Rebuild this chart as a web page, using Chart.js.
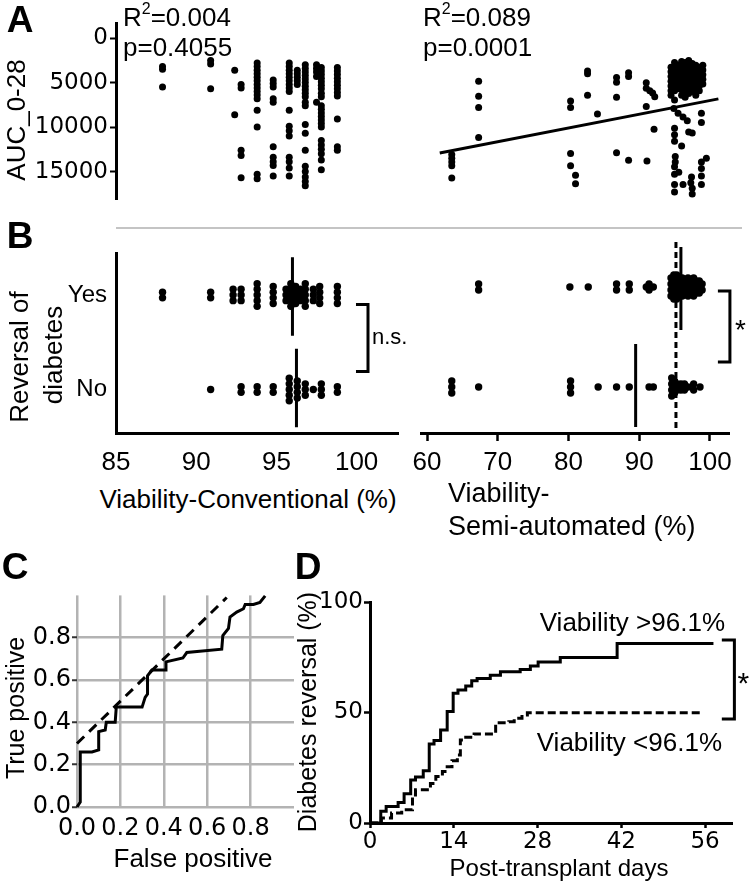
<!DOCTYPE html>
<html>
<head>
<meta charset="utf-8">
<script src="https://cdn.jsdelivr.net/npm/chart.js@4.4.1/dist/chart.umd.min.js"></script>
<style>
body{margin:0;background:#fff;}
#fig{position:relative;width:752px;height:884px;overflow:hidden;font-family:"Liberation Sans",Arial,sans-serif;color:#000;}
canvas{position:absolute;}
.t{position:absolute;white-space:nowrap;line-height:1;}
.c{transform:translate(-50%,-50%);}
.l{transform:translate(0,-50%);}
.r{transform:translate(-100%,-50%);}
.v{transform:translate(-50%,-50%) rotate(-90deg);}
.lab{font-weight:bold;font-size:37px;}
sup{font-size:16px;position:relative;top:-3px;vertical-align:top;}
</style>
</head>
<body>
<div id="fig">
  <canvas id="cA1" width="405" height="215" style="left:0;top:0"></canvas>
  <canvas id="cA2" width="347" height="215" style="left:405px;top:0"></canvas>
  <canvas id="cB1" width="420" height="250" style="left:0;top:230px"></canvas>
  <canvas id="cB2" width="347" height="250" style="left:405px;top:230px"></canvas>
  <canvas id="cC" width="340" height="304" style="left:0;top:580px"></canvas>
  <canvas id="cD" width="442" height="304" style="left:310px;top:580px"></canvas>

  <div style="position:absolute;left:116px;top:227px;width:626px;height:2px;background:#c4c4c4"></div>

  <div class="t c lab" style="left:20px;top:19px">A</div>
  <div class="t c lab" style="left:20px;top:235px">B</div>
  <div class="t c lab" style="left:15px;top:566px">C</div>
  <div class="t c lab" style="left:308px;top:566px">D</div>

  <div class="t l" style="left:123px;top:17px;font-size:26px">R<sup>2</sup>=0.004</div>
  <div class="t l" style="left:123px;top:47px;font-size:26px">p=0.4055</div>
  <div class="t l" style="left:423px;top:17px;font-size:26px">R<sup>2</sup>=0.089</div>
  <div class="t l" style="left:423px;top:47px;font-size:26px">p=0.0001</div>
  <div class="t v" style="left:16px;top:120px;font-size:26px">AUC_0-28</div>

  <div class="t v" style="left:19px;top:357px;font-size:26px">Reversal of</div>
  <div class="t v" style="left:53px;top:355px;font-size:26px">diabetes</div>
  <div class="t c" style="left:248px;top:499px;font-size:26px">Viability-Conventional (%)</div>
  <div class="t l" style="left:448px;top:493px;font-size:27px">Viability-</div>
  <div class="t l" style="left:448px;top:526px;font-size:27px">Semi-automated (%)</div>

  <div class="t v" style="left:15px;top:708px;font-size:25px">True positive</div>
  <div class="t c" style="left:193px;top:858px;font-size:26px">False positive</div>

  <div class="t v" style="left:307px;top:712px;font-size:25px">Diabetes reversal (%)</div>
  <div class="t c" style="left:559px;top:868px;font-size:24px">Post-transplant days</div>
  <div class="t r" style="left:725px;top:622px;font-size:26px">Viability &gt;96.1%</div>
  <div class="t r" style="left:722px;top:742px;font-size:26px">Viability &lt;96.1%</div>
</div>

<script>
// ---- data ----
// A: viability (%) vs AUC_0-28, conventional method
const aucConv = [
  [87.9,3200],[87.9,3500],[87.9,5500],
  [90.9,2500],[90.9,2900],[90.9,5700],
  [92.4,3600],[92.4,8600],
  [92.8,5200],[92.8,5600],[92.8,12600],[92.8,13200],[92.8,15700],
  [93.8,2800],[93.8,3200],[93.8,3600],[93.8,4000],[93.8,4400],[93.8,4800],[93.8,5200],[93.8,5600],
  [93.8,6000],[93.8,6400],[93.8,6800],[93.8,8100],[93.8,10000],[93.8,15300],[93.8,15800],
  [94.8,4700],[94.8,5100],[94.8,5500],[94.8,6800],[94.8,7200],[94.8,12200],[94.8,13400],[94.8,13900],
  [94.8,14300],[94.8,15500],
  [95.8,2800],[95.8,3200],[95.8,3600],[95.8,4000],[95.8,4400],[95.8,4800],[95.8,5200],[95.8,5600],
  [95.8,6000],[95.8,8100],[95.8,9900],[95.8,10400],[95.8,11000],[95.8,13400],[95.8,13900],[95.8,14600],
  [95.8,15500],
  [96.3,3600],[96.3,4000],[96.3,4400],[96.3,4800],[96.3,5200],
  [96.8,3000],[96.8,3400],[96.8,3800],[96.8,4200],[96.8,4600],[96.8,5000],[96.8,5400],[96.8,5800],
  [96.8,6200],[96.8,6600],[96.8,7200],[96.8,7600],[96.8,9700],[96.8,10700],[96.8,12600],[96.8,14400],
  [96.8,15000],[96.8,15600],[96.8,16100],[96.8,16600],
  [97.5,3000],[97.5,3400],[97.5,3800],[97.5,4300],[97.5,7200],
  [97.8,3300],[97.8,3700],[97.8,4100],[97.8,4500],[97.8,4900],[97.8,5300],[97.8,5700],[97.8,6200],
  [97.8,6600],[97.8,7600],[97.8,8000],[97.8,8400],[97.8,8800],[97.8,9200],[97.8,9600],[97.8,10000],
  [97.8,11500],[97.8,12000],[97.8,12500],[97.8,13000],[97.8,13700],[97.8,14800],
  [98.8,3300],[98.8,3700],[98.8,4100],[98.8,4500],[98.8,4900],[98.8,5300],[98.8,5700],[98.8,6100],
  [98.8,6500],[98.8,9100],[98.8,12200],[98.8,12600]
];

// A: semi-automated method
const aucSemi = [
  [63.5,12300],[63.5,12700],[63.5,13100],[63.5,13500],[63.5,14800],
  [67.3,4500],[67.3,6100],[67.3,7300],[67.3,10500],
  [80.3,6600],[80.3,7300],[80.3,12200],[80.3,13500],[81.0,14500],[81.0,15400],
  [82.7,3400],[82.7,3700],[82.7,6000],
  [84.1,8000],
  [86.8,4100],[86.8,4600],[86.8,6200],[86.8,12100],
  [88.5,3600],[88.5,4000],[88.5,12900],
  [91.0,4650],[91.0,5250],[91.5,5500],[91.9,5750],[92.2,6150],[91.0,7200],[91.1,13000],
  [92.1,9600],
  [94.5,3000],[94.5,3500],[94.5,4000],[94.5,4500],[94.5,5000],[94.5,5500],[94.5,6000],
  [95.0,2500],[95.0,3000],[95.0,3500],[95.0,4000],[95.0,4500],[95.0,5000],[95.0,5500],[95.0,6500],
  [95.5,2800],[95.5,3300],[95.5,3800],[95.5,4300],[95.5,4800],[95.5,5300],
  [96.0,2400],[96.0,2900],[96.0,3400],[96.0,3900],[96.0,4400],[96.0,4900],[96.0,5400],[96.0,6000],
  [96.5,2500],[96.5,3000],[96.5,3500],[96.5,4000],[96.5,4500],[96.5,5000],[96.5,5500],[96.5,6200],
  [97.0,2300],[97.0,2800],[97.0,3300],[97.0,3800],[97.0,4300],[97.0,4800],[97.0,5300],[97.0,5800],
  [97.5,2600],[97.5,3100],[97.5,3600],[97.5,4100],[97.5,4600],[97.5,5100],[97.5,5600],
  [98.0,2800],[98.0,3300],[98.0,3800],[98.0,4300],[98.0,4800],[98.0,5300],[98.0,6000],
  [98.5,3000],[98.5,3500],[98.5,4000],[98.5,4500],[98.5,5000],[98.5,5500],
  [99.0,2800],[99.0,3300],[99.0,3800],[99.0,4300],[99.0,4800],
  [94.9,7400],[95.5,7900],[96.2,8300],[96.8,8700],
  [95.0,9500],[95.0,10200],[95.0,10900],[96.0,11400],[97.0,9900],[97.5,10000],[98.8,7900],[98.8,8900],
  [95.1,12500],[95.1,13100],[95.0,13600],[95.0,14400],[95.0,15500],[95.0,16300],[95.6,14200],[96.2,15500],
  [97.4,14700],[97.3,15300],[97.5,15900],[97.5,16500],[98.8,13100],[98.8,13800],[98.8,14600],[98.8,15500],
  [99.5,12700]
];
const aucTicks = [0, 5000, 10000, 15000];
// linear fit shown on the semi-automated panel
const regSlope = -146;
const regIntercept = 21153;
const regRange = [61.8, 101.2];

// B: viability by reversal of diabetes
const rowLabels = ['No', 'Yes'];
const yesConv = [87.9,87.9, 90.9,90.9, 92.3,92.3,92.3, 92.8,92.8,92.8, 93.8,93.8,93.8,93.8,93.8,
  94.8,94.8,94.8,94.8, 95.6,95.6,95.6, 95.9,95.9,95.9,95.9,95.9, 96.2,96.2,96.2,96.2, 96.5,96.5,96.5,
  96.8,96.8,96.8,96.8,96.8, 97.3,97.3,97.3, 97.7,97.7,97.7,97.7, 98.8,98.8,98.8,98.8];
const noConv = [90.9, 92.8,92.8, 93.8,93.8, 94.8,94.8, 95.8,95.8,95.8,95.8,95.8, 96.3,96.3,96.3,96.3,
  96.8,96.8,96.8, 97.3, 97.8,97.8,97.8, 98.8,98.8];
const yesSemi = [67.3,67.3, 80.2, 82.8, 86.8,86.8, 88.6,88.6, 91.0,91.4,91.4,92.0,
  94.5,94.5,94.5,94.5, 94.9,94.9,94.9,94.9,94.9, 95.3,95.3,95.3,95.3,95.3, 95.7,95.7,95.7,95.7,
  96.1,96.1,96.1,96.1, 96.5,96.5,96.5, 96.9,96.9,96.9,96.9, 97.3,97.3,97.3, 97.7,97.7,97.7,97.7,
  98.1,98.1,98.1, 98.5,98.5,98.5, 98.9,98.9];
const noSemi = [63.5,63.5,63.5, 67.3, 80.3,80.3,80.3, 84.2, 86.8, 88.6, 91.4, 92.0,
  94.6,94.6,94.6,94.6, 95.0,95.0,95.0, 95.4,95.4, 95.9,95.9, 96.4,96.4, 96.9, 97.7,97.7, 98.6];
const medYesConv = 96.0, medNoConv = 96.25;
const medYesSemi = 95.9, medNoSemi = 89.5, cutSemi = 95.2;
const convTicks = [85, 90, 95, 100];
const semiTicks = [60, 70, 80, 90, 100];

// C: ROC curve
const rocFpr = [0, 0.015, 0.015, 0.069, 0.10, 0.10, 0.13, 0.135, 0.176, 0.181, 0.30, 0.314, 0.325, 0.325,
  0.345, 0.41, 0.41, 0.488, 0.506, 0.667, 0.672, 0.698, 0.705, 0.736, 0.767, 0.775, 0.813, 0.843, 0.867];
const rocTpr = [0, 0.023, 0.26, 0.26, 0.27, 0.356, 0.364, 0.40, 0.40, 0.472, 0.472, 0.518, 0.534, 0.62,
  0.647, 0.647, 0.686, 0.704, 0.73, 0.746, 0.81, 0.844, 0.898, 0.921, 0.937, 0.957, 0.957, 0.967, 0.998];
const refFpr = [0, 0.69];
const refTpr = [0.30, 0.99];
const rocTicks = [0, 0.2, 0.4, 0.6, 0.8];

// D: Kaplan-Meier style reversal curves
const kmHighDays = [0, 1.8, 2.7, 4.7, 5.7, 6.8, 7.6, 8.9, 9.9, 10.7, 11.8, 12.9, 13.9, 14.7, 16.0, 17.0,
  17.9, 20.1, 21.8, 25.1, 26.8, 28.1, 31.8, 41.3, 57.4];
const kmHighPct = [0, 5.3, 7.5, 9.3, 13.2, 19.5, 20.8, 23.6, 35.8, 37.3, 42.1, 50.4, 58.7, 60.2, 62.0, 64.4,
  65.4, 66.9, 68.4, 69.5, 71.0, 72.9, 74.9, 81.2, 81.2];
const kmLowDays = [0, 1.9, 3.6, 5.3, 7.1, 7.6, 10.1, 11.0, 12.1, 12.9, 13.7, 14.6, 15.1, 16.0, 17.4, 21.0,
  23.2, 24.1, 25.4, 26.3, 55.4];
const kmLowPct = [0, 2.3, 4.5, 6.0, 12.7, 15.0, 17.9, 21.0, 23.3, 25.5, 28.2, 30.8, 37.6, 38.8, 40.3, 45.4,
  45.8, 47.4, 48.9, 49.9, 49.9];
const dayTicks = [0, 14, 28, 42, 56];
const pctTicks = [0, 50, 100];

// ---- helpers ----
Chart.defaults.font.family = '"Liberation Sans", Arial, sans-serif';
Chart.defaults.color = '#000';
Chart.defaults.animation = false;
Chart.defaults.responsive = false;
Chart.defaults.events = [];
Chart.defaults.plugins.legend.display = false;
Chart.defaults.plugins.tooltip.enabled = false;

const DV = '"DejaVu Sans", sans-serif';
const fixW = w => s => { s.width = w; };
const fixH = h => s => { s.height = h; };
const setTicks = vals => s => { s.ticks = vals.map(v => ({value: v})); };
const plain = v => String(v);
const axisLine = {display: true, color: '#000', width: 3};

const dots = (pts, r) => ({
  data: pts, pointRadius: r, backgroundColor: '#000', borderColor: '#000',
  pointBorderWidth: 0, clip: false
});
const pairs = arr => arr.map(([x, y]) => ({x, y}));
const zip = (xs, ys) => xs.map((x, i) => ({x, y: ys[i]}));
const seg = (data, dash, extra) => Object.assign({
  data, showLine: true, borderColor: '#000', borderWidth: 3, borderDash: dash || [],
  pointRadius: 0, clip: false
}, extra || {});

// stack repeated values around the row centre
function swarm(vals, row, step) {
  const count = {}, seen = {};
  vals.forEach(v => { count[v] = (count[v] || 0) + 1; });
  return vals.map(v => {
    const i = seen[v] = seen[v] === undefined ? 0 : seen[v] + 1;
    return {x: v, y: row + (i - (count[v] - 1) / 2) * step};
  });
}

const bracketPlugin = {
  id: 'bracket',
  afterDatasetsDraw(chart, args, o) {
    const {ctx} = chart, xs = chart.scales.x, ys = chart.scales.y;
    const X0 = xs.getPixelForValue(o.x0), X1 = xs.getPixelForValue(o.x1);
    const Y0 = ys.getPixelForValue(o.y0), Y1 = ys.getPixelForValue(o.y1);
    ctx.save();
    ctx.strokeStyle = '#000';
    ctx.lineWidth = 3;
    ctx.beginPath();
    ctx.moveTo(X0, Y0); ctx.lineTo(X1, Y0); ctx.lineTo(X1, Y1); ctx.lineTo(X0, Y1);
    ctx.stroke();
    ctx.fillStyle = '#000';
    ctx.font = o.font;
    ctx.textAlign = 'left';
    ctx.textBaseline = 'middle';
    ctx.fillText(o.text, X1 + o.gap, (Y0 + Y1) / 2 + o.dy);
    ctx.restore();
  }
};

// ---- A ----
new Chart(document.getElementById('cA1'), {
  type: 'scatter',
  data: {datasets: [dots(pairs(aucConv), 3.5)]},
  options: {
    layout: {padding: {top: 23, right: 7, bottom: 6, left: 0}},
    scales: {
      x: {display: false, min: 85, max: 102.58},
      y: {
        reverse: true, min: -1700, max: 18100,
        afterBuildTicks: setTicks(aucTicks), afterFit: fixW(116),
        border: axisLine,
        grid: {drawOnChartArea: false, tickLength: 6, tickWidth: 2, tickColor: '#000'},
        ticks: {font: {family: DV, size: 23}, padding: 2, callback: plain}
      }
    }
  }
});

new Chart(document.getElementById('cA2'), {
  type: 'scatter',
  data: {datasets: [
    dots(pairs(aucSemi), 3.5),
    seg(regRange.map(x => ({x, y: regSlope * x + regIntercept})))
  ]},
  options: {
    layout: {padding: {top: 23, right: 23, bottom: 6, left: 16}},
    scales: {
      x: {display: false, min: 59.15, max: 102.7},
      y: {display: false, reverse: true, min: -1700, max: 18100}
    }
  }
});

// ---- B ----
new Chart(document.getElementById('cB1'), {
  type: 'scatter',
  data: {datasets: [
    dots(swarm(yesConv, 1, 0.06), 3.7),
    dots(swarm(noConv, 0, 0.06), 3.7),
    seg([{x: medYesConv, y: 1.40}, {x: medYesConv, y: 0.57}]),
    seg([{x: medNoConv, y: 0.43}, {x: medNoConv, y: -0.40}])
  ]},
  options: {
    layout: {padding: {top: 13, right: 22, bottom: 7, left: 0}},
    scales: {
      x: {
        min: 85, max: 102.58, afterBuildTicks: setTicks(convTicks), afterFit: fixH(40),
        border: axisLine, grid: {display: false, drawTicks: false},
        ticks: {font: {size: 26}, padding: 14, callback: plain}
      },
      y: {
        min: -0.46, max: 1.44, afterBuildTicks: setTicks([0, 1]), afterFit: fixW(116),
        border: axisLine, grid: {display: false, drawTicks: false},
        ticks: {font: {size: 24}, padding: 9, callback: v => rowLabels[v]}
      }
    },
    plugins: {bracket: {x0: 99.96, x1: 100.71, y0: 0.90, y1: 0.19, text: 'n.s.',
      font: '22px "Liberation Sans", Arial', gap: 4, dy: 0}}
  },
  plugins: [bracketPlugin]
});

new Chart(document.getElementById('cB2'), {
  type: 'scatter',
  data: {datasets: [
    dots(swarm(yesSemi, 1, 0.06), 3.7),
    dots(swarm(noSemi, 0, 0.06), 3.7),
    seg([{x: medYesSemi, y: 1.40}, {x: medYesSemi, y: 0.57}]),
    seg([{x: medNoSemi, y: 0.43}, {x: medNoSemi, y: -0.40}]),
    seg([{x: cutSemi, y: 1.45}, {x: cutSemi, y: -0.46}], [6, 4])
  ]},
  options: {
    layout: {padding: {top: 13, right: 23, bottom: 7, left: 16}},
    scales: {
      x: {
        min: 59.15, max: 102.7, afterBuildTicks: setTicks(semiTicks), afterFit: fixH(40),
        border: axisLine,
        grid: {drawOnChartArea: false, tickLength: 8, tickWidth: 2.5, tickColor: '#000'},
        ticks: {font: {size: 26}, padding: 6, callback: plain}
      },
      y: {display: false, min: -0.46, max: 1.44}
    },
    plugins: {bracket: {x0: 101.13, x1: 102.83, y0: 0.96, y1: 0.25, text: '*',
      font: '28px "Liberation Sans", Arial', gap: 5, dy: 5}}
  },
  plugins: [bracketPlugin]
});

// ---- C ----
new Chart(document.getElementById('cC'), {
  type: 'scatter',
  data: {datasets: [
    seg(zip(refFpr, refTpr), [10, 7]),
    seg(zip(rocFpr, rocTpr))
  ]},
  options: {
    layout: {padding: {top: 11, right: 46, bottom: 37, left: 0}},
    scales: {
      x: {
        min: 0, max: 1, afterBuildTicks: setTicks(rocTicks), afterFit: fixH(40),
        border: {display: false}, grid: {color: '#b3b3b3', lineWidth: 2.5, drawTicks: false},
        ticks: {font: {family: DV, size: 24}, padding: 7, callback: v => v.toFixed(1)}
      },
      y: {
        min: 0, max: 1, afterBuildTicks: setTicks(rocTicks), afterFit: fixW(77),
        border: {display: false},
        grid: {color: '#b3b3b3', lineWidth: 2.5, tickLength: 5, tickWidth: 2, tickColor: '#333'},
        ticks: {font: {family: DV, size: 24}, padding: 1, callback: v => v.toFixed(1)}
      }
    }
  }
});

// ---- D ----
new Chart(document.getElementById('cD'), {
  type: 'scatter',
  data: {datasets: [
    seg(zip(kmHighDays, kmHighPct), [], {stepped: true}),
    seg(zip(kmLowDays, kmLowPct), [8, 4], {stepped: true})
  ]},
  options: {
    layout: {padding: {top: 22, right: 20, bottom: 31, left: 0}},
    scales: {
      x: {
        min: 0, max: 60.5, afterBuildTicks: setTicks(dayTicks), afterFit: fixH(30),
        border: axisLine,
        grid: {drawOnChartArea: false, tickLength: 5, tickWidth: 2.5, tickColor: '#000'},
        ticks: {font: {family: DV, size: 23}, padding: 0, callback: plain}
      },
      y: {
        min: 0, max: 100, afterBuildTicks: setTicks(pctTicks), afterFit: fixW(60),
        border: axisLine,
        grid: {drawOnChartArea: false, tickLength: 6, tickWidth: 2.5, tickColor: '#000'},
        ticks: {font: {family: DV, size: 23}, padding: 1, callback: plain}
      }
    },
    plugins: {bracket: {x0: 58.8, x1: 60.9, y0: 82.8, y1: 47.1, text: '*',
      font: '30px "Liberation Sans", Arial', gap: 3, dy: 5}}
  },
  plugins: [bracketPlugin]
});
</script>
</body>
</html>
